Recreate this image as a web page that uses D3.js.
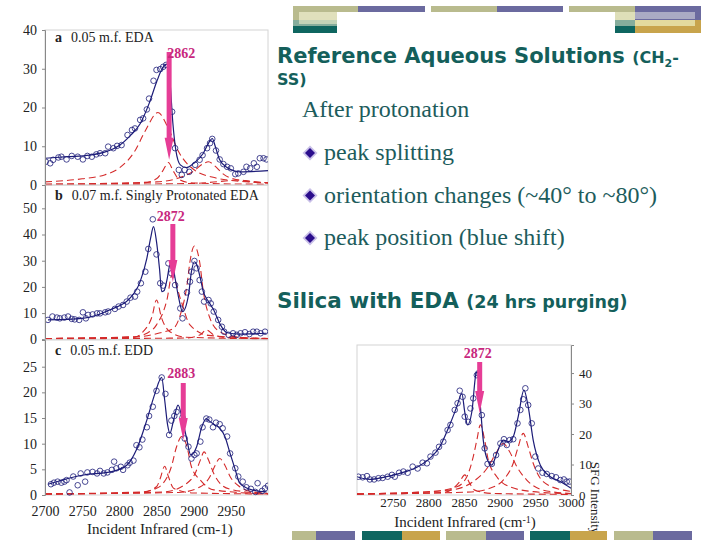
<!DOCTYPE html>
<html>
<head>
<meta charset="utf-8">
<script src="https://cdn.jsdelivr.net/npm/d3@7"></script>
<style>
body { margin: 0; background: #fff; }
svg text { font-family: "Liberation Serif", "Times New Roman", serif; }
</style>
</head>
<body>
<svg id="slide" width="720" height="540"></svg>
<script>
// ---- data ----
// panel a : 0.05 m.f. EDA
var aPoints = [[2701,6.0],[2707,5.6],[2711,6.5],[2718,7.1],[2722,7.3],[2729,6.6],[2736,7.5],[2744,7.3],[2751,6.6],[2757,7.5],[2763,7.3],[2769,7.9],[2774,8.2],[2781,8.2],[2785,9.9],[2792,9.5],[2797,10.1],[2803,10.3],[2811,12.9],[2817,14.2],[2821,14.6],[2828,16.8],[2832,17.2],[2837,19.5],[2840,22.3],[2846,26.9],[2850,29.7],[2855,29.9],[2859,30.5],[2863,31.0],[2871,18.9],[2875,9.5],[2880,3.9],[2884,2.6],[2888,3.9],[2894,3.4],[2902,5.2],[2908,6.5],[2912,7.7],[2918,9.5],[2922,10.8],[2925,11.9],[2930,8.9],[2935,6.6],[2940,5.4],[2945,4.7],[2950,4.3],[2956,2.8],[2960,3.0],[2967,3.4],[2971,4.7],[2976,4.3],[2981,5.6],[2985,4.7],[2989,6.9],[2994,6.9],[2998,6.6]];
var aFit = [[2700,6.9],[2730,7.3],[2760,7.7],[2785,8.8],[2800,10.2],[2815,12.8],[2828,15.8],[2840,21],[2850,26.5],[2857,29.8],[2864,31.2],[2868,27],[2872,16],[2876,9],[2882,5.2],[2890,4.5],[2900,5.6],[2913,8.2],[2920,10.8],[2925,12],[2929,10],[2935,6.5],[2945,4.5],[2962,3.4],[3000,3.7]];
var aComps = [
  [[2700,0.8],[2750,1.6],[2780,2.6],[2800,4.4],[2820,8.5],[2835,14],[2852,18.7],[2865,15],[2880,8.5],[2900,4],[2930,1.8],[2960,1.0],[3000,0.6]],
  [[2700,0.2],[2830,0.5],[2850,1.6],[2858,3.5],[2866,5.8],[2872,3.8],[2880,1.5],[2895,0.6],[2940,0.3],[3000,0.2]],
  [[2700,0.2],[2850,0.8],[2880,1.8],[2900,3.6],[2912,5.4],[2920,6.0],[2928,5.0],[2940,2.8],[2960,1.3],[3000,0.5]],
  [[2700,0.1],[2900,0.4],[2940,1.0],[2960,1.3],[2975,1.0],[3000,0.5]]
];
var aTicks = [0,10,20,30,40];

// panel b : 0.07 m.f. singly protonated EDA
var bPoints = [[2704,7.4],[2710,8.7],[2716,8.3],[2720,8.0],[2726,8.3],[2731,8.7],[2736,7.8],[2740,7.6],[2746,7.4],[2751,10.3],[2755,8.0],[2758,9.3],[2764,9.5],[2770,9.9],[2774,9.9],[2781,10.3],[2785,10.6],[2794,11.6],[2799,12.5],[2805,13.1],[2810,14.4],[2815,15.9],[2821,16.3],[2824,18.2],[2829,21.4],[2835,25.8],[2839,34.5],[2845,45.8],[2850,32.4],[2855,21.4],[2859,20.5],[2866,29.0],[2870,25.2],[2875,20.7],[2882,11.8],[2885,8.0],[2891,17.9],[2895,22.0],[2897,25.8],[2901,29.9],[2904,27.1],[2908,22.6],[2911,18.2],[2914,14.4],[2920,15.0],[2923,13.7],[2927,10.6],[2933,7.4],[2938,4.8],[2941,2.9],[2947,1.7],[2953,2.3],[2958,1.7],[2963,2.3],[2969,2.7],[2975,2.0],[2980,2.9],[2985,2.9],[2990,2.3],[2996,2.9]];
var bFit = [[2704,7.4],[2750,8.0],[2787,11.2],[2814,15.6],[2828,22],[2837,30.9],[2842,38.5],[2846,43],[2850,37.3],[2854,27.1],[2857,18.2],[2860,18.5],[2864,22.6],[2868,28.4],[2871,29],[2875,23.3],[2880,15.6],[2885,10.6],[2893,16.9],[2897,25.8],[2901,29.6],[2904,28.6],[2909,23.3],[2913,18.2],[2920,14.4],[2927,11.2],[2936,5.5],[2945,2.5],[2962,2.0],[2998,2.3]];
var bComps = [
  [[2700,0.3],[2820,0.8],[2832,2.9],[2844,8.7],[2850,15.0],[2857,8.0],[2868,2.9],[2890,0.8],[3000,0.2]],
  [[2700,0.3],[2820,1.0],[2837,2.3],[2850,5.5],[2864,15],[2871,24.6],[2882,15.6],[2895,5.5],[2920,1.5],[3000,0.3]],
  [[2700,0.3],[2820,0.8],[2855,2.5],[2873,4.2],[2882,9.3],[2891,20.7],[2895,29.6],[2901,35.6],[2908,29.6],[2913,18.2],[2922,8.0],[2935,2.9],[2960,0.8],[3000,0.3]],
  [[2700,0.2],[2890,0.5],[2909,1.7],[2917,3.6],[2927,1.7],[2950,0.5],[3000,0.2]]
];
var bTicks = [0,10,20,30,40,50];

// panel c : 0.05 m.f. EDD
var cPoints = [[2708,2.1],[2712,2.4],[2717,2.6],[2722,2.4],[2726,2.6],[2729,2.9],[2733,0.5],[2738,3.6],[2744,1.9],[2748,4.2],[2754,2.6],[2757,4.4],[2764,4.5],[2770,4.2],[2774,4.7],[2779,4.2],[2784,4.4],[2790,4.9],[2793,6.5],[2796,5.2],[2802,5.5],[2805,4.9],[2811,5.8],[2814,6.3],[2819,6.7],[2823,9.7],[2827,9.3],[2831,10.8],[2837,13.2],[2840,15.4],[2845,17.2],[2850,20.3],[2857,22.9],[2862,19.7],[2867,11.7],[2870,14.5],[2874,15.4],[2877,16.2],[2885,15.1],[2888,11.0],[2893,9.4],[2897,7.1],[2901,7.8],[2904,8.1],[2909,10.4],[2912,13.2],[2917,14.9],[2921,14.7],[2926,13.2],[2930,14.1],[2935,13.8],[2939,13.0],[2945,11.4],[2949,8.1],[2956,5.2],[2960,3.6],[2966,2.6],[2971,1.5],[2977,1.2],[2983,0.6],[2986,2.3],[2992,0.8],[2996,1.3],[3000,1.8]];
var cFit = [[2704,2.1],[2752,3.9],[2788,4.5],[2810,5.8],[2823,8.8],[2837,14.6],[2848,19.8],[2857,22.9],[2861,18.5],[2865,13.6],[2868,12.0],[2873,14.6],[2879,17.5],[2885,14.6],[2891,10.7],[2896,7.8],[2904,9.4],[2911,13.3],[2917,14.9],[2922,14.3],[2929,13.6],[2935,13.0],[2942,11.4],[2949,8.1],[2956,4.9],[2962,2.3],[2976,1.1],[2998,0.6]];
var cComps = [
  [[2700,0.2],[2830,0.5],[2850,1.6],[2855,3.2],[2861,5.6],[2866,3.6],[2873,1.3],[2900,0.4],[3000,0.2]],
  [[2700,0.2],[2830,0.6],[2850,1.3],[2859,2.3],[2870,5.5],[2877,9.4],[2884,11.4],[2891,9.4],[2897,5.5],[2909,2.9],[2927,1.0],[3000,0.2]],
  [[2700,0.2],[2860,0.6],[2891,2.3],[2902,4.2],[2909,6.8],[2914,8.4],[2920,6.8],[2927,4.2],[2938,1.9],[2953,1.0],[3000,0.3]],
  [[2700,0.2],[2880,0.5],[2909,1.6],[2922,3.6],[2929,5.8],[2935,7.1],[2942,5.8],[2949,3.6],[2962,1.6],[2980,0.6],[3000,0.3]]
];
var cTicks = [0,5,10,15,20,25];

// panel d : silica with EDA
var dPoints = [[2702,6.0],[2708,5.8],[2714,6.2],[2718,5.1],[2724,5.1],[2730,5.5],[2736,5.6],[2743,6.0],[2749,6.6],[2753,6.0],[2759,7.3],[2765,7.7],[2771,7.3],[2778,9.3],[2785,8.7],[2792,10.6],[2798,10.4],[2803,12.6],[2810,13.9],[2815,15.8],[2821,17.5],[2827,21.3],[2831,23.0],[2837,27.9],[2841,30.1],[2844,34.2],[2848,32.2],[2851,25.7],[2856,24.0],[2859,28.4],[2863,31.7],[2868,39.3],[2870,39.9],[2875,26.2],[2879,15.3],[2883,10.2],[2889,10.2],[2895,13.1],[2901,16.9],[2906,18.3],[2910,16.4],[2914,18.0],[2919,18.3],[2925,23.5],[2929,27.9],[2933,31.4],[2936,35.0],[2940,29.5],[2945,23.5],[2950,12.6],[2954,8.7],[2960,7.3],[2966,6.9],[2973,6.2],[2979,5.8],[2985,4.9],[2990,5.1],[2994,4.4],[2998,4.4]];
var dFit = [[2700,6.0],[2718,5.1],[2737,5.8],[2760,7.1],[2784,9.1],[2802,12.0],[2816,15.8],[2830,23.0],[2840,29.0],[2847,33.3],[2851,27.3],[2855,23.0],[2861,27.3],[2867,39.9],[2869,40.4],[2873,29.0],[2877,18.0],[2884,10.9],[2889,9.8],[2896,13.7],[2905,18.0],[2912,17.5],[2919,19.1],[2926,25.7],[2934,34.4],[2940,29.0],[2947,18.0],[2957,9.8],[2971,6.0],[2985,4.4],[3000,2.2]];
var dComps = [
  [[2700,0.3],[2820,0.8],[2835,2.2],[2844,4.4],[2851,6.6],[2858,3.8],[2865,1.6],[2890,0.5],[3000,0.2]],
  [[2700,0.4],[2800,1.0],[2840,2.7],[2854,6.0],[2863,12.6],[2868,18.0],[2873,23.0],[2879,18.0],[2884,11.5],[2896,6.0],[2914,2.7],[2947,1.1],[3000,0.4]],
  [[2700,0.3],[2830,1.6],[2863,4.4],[2884,9.3],[2896,14.2],[2905,16.9],[2914,14.2],[2924,9.3],[2938,4.9],[2961,1.6],[3000,0.5]],
  [[2700,0.3],[2860,1.0],[2886,2.2],[2905,4.9],[2919,10.4],[2926,15.8],[2933,20.2],[2940,15.8],[2947,10.4],[2961,4.4],[2989,1.6],[3000,1.2]]
];
var dTicks = [0,10,20,30,40];

var leftXTicks = [2700,2750,2800,2850,2900,2950];
var rightXTicks = [2750,2800,2850,2900,2950,3000];

var panelTags = ["a","b","c"];
var panelNames = ["0.05 m.f. EDA","0.07 m.f. Singly Protonated EDA","0.05 m.f. EDD"];

var peakLabels = ["2862","2872","2883","2872"];
var arrowX = [2867,2872,2886,2872];
var arrowTop = [34.3,44,21.8,43.6];
var arrowTip = [6.5,21.9,10.7,26.9];

var bullets = ["peak splitting","orientation changes (~40\u00b0 to ~80\u00b0)","peak position (blue shift)"];

// ---- layout ----
var svg = d3.select("#slide");
var teal = "#145f5b", navy = "#1c1c78", red = "#d42a2a", pink = "#e63d96";

var xLeft = d3.scaleLinear().domain([2700,3000]).range([45,268]);
var xRight = d3.scaleLinear().domain([2700,3000]).range([357,571]);

var panels = [
  {pts:aPoints, fit:aFit, comps:aComps, ticks:aTicks, x:xLeft, y:d3.scaleLinear().domain([0,40]).range([185,30])},
  {pts:bPoints, fit:bFit, comps:bComps, ticks:bTicks, x:xLeft, y:d3.scaleLinear().domain([0,58.9]).range([339.3,185])},
  {pts:cPoints, fit:cFit, comps:cComps, ticks:cTicks, x:xLeft, y:d3.scaleLinear().domain([0,30.2]).range([495,340])},
  {pts:dPoints, fit:dFit, comps:dComps, ticks:dTicks, x:xRight, y:d3.scaleLinear().domain([0,49.2]).range([495,345])}
];

var defs = svg.append("defs");

panels.forEach(function(p, i) {
  var x0 = p.x.range()[0], x1 = p.x.range()[1];
  var yb = p.y.range()[0], yt = p.y.range()[1];

  defs.append("clipPath").attr("id", "clip" + i)
    .append("rect").attr("x", x0).attr("y", yt - 2).attr("width", x1 - x0).attr("height", yb - yt + 3);

  // frame
  svg.append("rect")
    .attr("x", x0).attr("y", yt).attr("width", x1 - x0).attr("height", yb - yt)
    .style("fill", "none").style("stroke", "#d4d4d4").style("stroke-width", 1);

  var g = svg.append("g").attr("clip-path", "url(#clip" + i + ")");

  var line = d3.line()
    .x(function(d) { return p.x(d[0]); })
    .y(function(d) { return p.y(d[1]); })
    .curve(d3.curveMonotoneX);

  g.selectAll("path.comp").data(p.comps).enter()
    .append("path")
    .attr("class", "comp")
    .attr("d", line)
    .style("fill", "none")
    .style("stroke", red)
    .style("stroke-width", 1.1)
    .style("stroke-dasharray", "7,4");

  g.append("path")
    .attr("d", line(p.fit))
    .style("fill", "none")
    .style("stroke", navy)
    .style("stroke-width", 1.2);

  g.selectAll("circle").data(p.pts).enter()
    .append("circle")
    .attr("cx", function(d) { return p.x(d[0]); })
    .attr("cy", function(d) { return p.y(d[1]); })
    .attr("r", 2.8)
    .style("fill", "none")
    .style("stroke", navy)
    .style("stroke-width", 0.8);

  // y axis
  var ax = (i < 3) ? d3.axisLeft(p.y) : d3.axisRight(p.y);
  ax.tickValues(p.ticks).tickSize(3).tickPadding(5).tickFormat(d3.format("d"));
  var ga = svg.append("g")
    .attr("transform", "translate(" + (i < 3 ? x0 : x1) + ",0)")
    .call(ax);
  ga.select(".domain").style("stroke", "#888");
  ga.selectAll(".tick line").style("stroke", "#888");
  ga.selectAll("text").style("font-size", i < 3 ? "14px" : "13px").style("fill", "#222")
    .style("font-family", "Liberation Serif, serif");

  // arrow marking the split peak
  var ax0 = p.x(arrowX[i]), top = p.y(arrowTop[i]), tip = p.y(arrowTip[i]);
  svg.append("path")
    .attr("d", "M" + (ax0 - 2.5) + "," + top + "L" + (ax0 + 2.5) + "," + top +
               "L" + (ax0 + 2.5) + "," + (tip - 22) + "L" + (ax0 + 4.5) + "," + (tip - 22) +
               "L" + ax0 + "," + tip + "L" + (ax0 - 4.5) + "," + (tip - 22) +
               "L" + (ax0 - 2.5) + "," + (tip - 22) + "Z")
    .style("fill", pink);
  svg.append("text")
    .attr("x", ax0 - 2).attr("y", top + (i == 1 ? -3 : i == 2 ? -5 : 6) - (i == 3 ? 10 : 0))
    .attr("text-anchor", i == 0 ? "start" : "middle")
    .style("font-size", "14px").style("font-weight", "bold").style("fill", "#c8287e")
    .text(peakLabels[i]);

  if (i < 3) {
    var lab = svg.append("text").attr("x", 55).attr("y", yt + (i == 0 ? 12 : 15))
      .style("font-size", "14px").style("fill", "#222");
    lab.append("tspan").style("font-weight", "bold").text(panelTags[i]);
    lab.append("tspan").attr("dx", 9).text(panelNames[i]);
  }
});

// bottom x axes
var gxl = svg.append("g").attr("transform", "translate(0,500)")
  .call(d3.axisBottom(xLeft).tickValues(leftXTicks).tickSize(0).tickPadding(6).tickFormat(d3.format("d")));
var gxr = svg.append("g").attr("transform", "translate(0,494)")
  .call(d3.axisBottom(xRight).tickValues(rightXTicks).tickSize(0).tickPadding(4).tickFormat(d3.format("d")));
gxl.select(".domain").remove();
gxl.selectAll("text").style("font-size", "14px").style("fill", "#222")
  .style("font-family", "Liberation Serif, serif");
gxr.select(".domain").remove();
gxr.selectAll("text").style("font-size", "13px").style("fill", "#222")
  .style("font-family", "Liberation Serif, serif");

svg.append("text").attr("x", 160).attr("y", 534).attr("text-anchor", "middle")
  .style("font-size", "15px").style("fill", "#222").text("Incident Infrared (cm-1)");
var xr = svg.append("text").attr("x", 465).attr("y", 527).attr("text-anchor", "middle")
  .style("font-size", "15px").style("fill", "#222");
xr.append("tspan").text("Incident Infrared (cm");
xr.append("tspan").attr("dy", -4).style("font-size", "10px").text("-1");
xr.append("tspan").attr("dy", 4).text(")");
svg.append("text").attr("transform", "translate(591,498) rotate(90)").attr("text-anchor", "middle")
  .style("font-size", "13px").style("fill", "#222").text("SFG Intensity");

// ---- slide text ----
var t1 = svg.append("text").attr("x", 277).attr("y", 63)
  .style("font-family", "DejaVu Sans, Verdana, sans-serif").style("font-weight", "bold")
  .style("font-size", "21px").style("fill", teal);
t1.append("tspan").text("Reference Aqueous Solutions ");
t1.append("tspan").style("font-size", "16px").text("(CH");
t1.append("tspan").attr("dy", 4).style("font-size", "11px").text("2");
t1.append("tspan").attr("dy", -4).style("font-size", "16px").text("-");
svg.append("text").attr("x", 277).attr("y", 85)
  .style("font-family", "DejaVu Sans, Verdana, sans-serif").style("font-weight", "bold")
  .style("font-size", "16px").style("fill", teal).text("SS)");

svg.append("text").attr("x", 302).attr("y", 117)
  .style("font-size", "24px").style("fill", "#1d5c5c").text("After protonation");

bullets.forEach(function(b, i) {
  var by = 160 + i * 42.5;
  var cx = 310, cy = by - 7;
  svg.append("path")
    .attr("d", "M" + cx + "," + (cy - 7.5) + "L" + (cx + 7.5) + "," + cy + "L" + cx + "," + (cy + 7.5) + "L" + (cx - 7.5) + "," + cy + "Z")
    .style("fill", "#c9c0e8");
  svg.append("path")
    .attr("d", "M" + cx + "," + (cy - 5) + "L" + (cx + 5) + "," + cy + "L" + cx + "," + (cy + 5) + "L" + (cx - 5) + "," + cy + "Z")
    .style("fill", "#2b0d8c");
  svg.append("text").attr("x", 324).attr("y", by)
    .style("font-size", "24px").style("fill", "#1d5c5c").text(b);
});

var t2 = svg.append("text").attr("x", 277).attr("y", 308)
  .style("font-family", "DejaVu Sans, Verdana, sans-serif").style("font-weight", "bold")
  .style("fill", teal);
t2.append("tspan").style("font-size", "21.5px").text("Silica with EDA ");
t2.append("tspan").style("font-size", "17.5px").text("(24 hrs purging)");

// ---- slide decoration bars ----
var khaki = "#b9bb8e", purple = "#6b6a9f", dteal = "#0f6660", gold = "#c8a44c";
var deco = [
  [293,6,65,6,khaki],[358,6,67,6,purple],[431,6,66,6,khaki],[497,6,66,6,purple],[569,6,66,6,khaki],[635,6,66,6,purple],
  [293,12,44,8,khaki],[299,12,38,8,"#e0e0bc"],[293,20,44,6,"#86ad9c"],[299,20,38,4,"#c3d3b8"],[293,26,44,7,dteal],
  [615,12,20,8,"#dedfb8"],[635,12,66,8,purple],[635,12,60,7,"#aaaac4"],[615,20,20,6,"#86ad9c"],[635,20,60,6,"#e3da9e"],[695,20,6,6,gold],[615,26,20,7,dteal],[635,26,66,7,gold],
  [292,531,24,9,khaki],[316,531,39,9,purple],[362,531,40,9,dteal],[402,531,38,9,gold],
  [446,531,40,9,khaki],[486,531,38,9,purple],[530,531,40,9,dteal],[570,531,37,9,gold],
  [614,531,39,9,khaki],[653,531,39,9,purple]
];
svg.selectAll("rect.deco").data(deco).enter().append("rect")
  .attr("class", "deco")
  .attr("x", function(d) { return d[0]; }).attr("y", function(d) { return d[1]; })
  .attr("width", function(d) { return d[2]; }).attr("height", function(d) { return d[3]; })
  .style("fill", function(d) { return d[4]; });
</script>
</body>
</html>
